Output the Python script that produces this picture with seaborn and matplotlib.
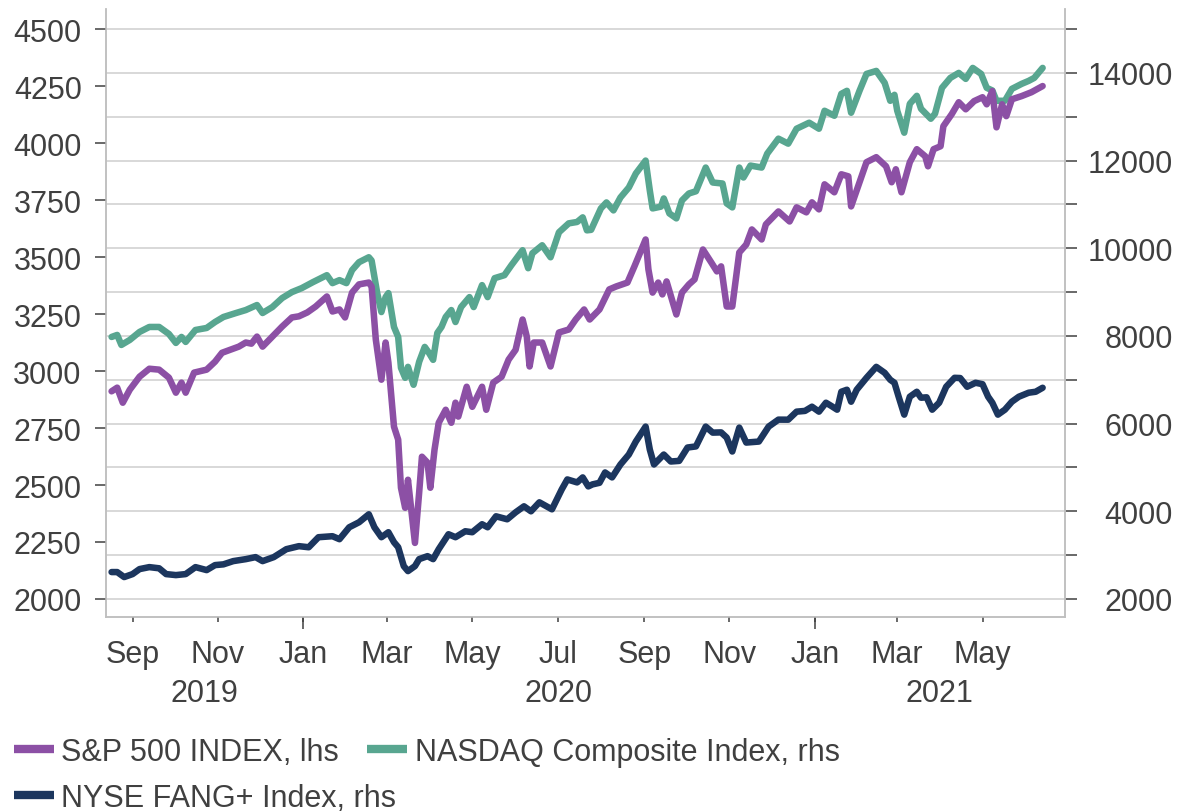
import matplotlib
matplotlib.use("Agg")
import matplotlib.pyplot as plt
import matplotlib.dates as mdates
import matplotlib.ticker as mticker
import seaborn as sns
import pandas as pd

sns.set_theme(style="white")
plt.rcParams["font.family"] = ["Liberation Sans", "DejaVu Sans"]

# ---------------- data ----------------
spx_dates = ["2019-08-17", "2019-08-21", "2019-08-25", "2019-08-30", "2019-09-06", "2019-09-13", "2019-09-20",
             "2019-09-27", "2019-10-02", "2019-10-06", "2019-10-09", "2019-10-15", "2019-10-24", "2019-10-30",
             "2019-11-04", "2019-11-16", "2019-11-21", "2019-11-25", "2019-11-29", "2019-12-03", "2019-12-10",
             "2019-12-17", "2019-12-24", "2019-12-29", "2020-01-04", "2020-01-10", "2020-01-18", "2020-01-22",
             "2020-01-27", "2020-01-31", "2020-02-05", "2020-02-10", "2020-02-17", "2020-02-19", "2020-02-22",
             "2020-02-26", "2020-02-29", "2020-03-02", "2020-03-06", "2020-03-09", "2020-03-11", "2020-03-14",
             "2020-03-16", "2020-03-21", "2020-03-24", "2020-03-26", "2020-03-30", "2020-04-01", "2020-04-04",
             "2020-04-07", "2020-04-12", "2020-04-16", "2020-04-19", "2020-04-21", "2020-04-27", "2020-05-01",
             "2020-05-08", "2020-05-11", "2020-05-16", "2020-05-22", "2020-05-27", "2020-06-01", "2020-06-06",
             "2020-06-09", "2020-06-11", "2020-06-14", "2020-06-20", "2020-06-26", "2020-07-02", "2020-07-09",
             "2020-07-14", "2020-07-20", "2020-07-24", "2020-07-31", "2020-08-07", "2020-08-12", "2020-08-20",
             "2020-08-25", "2020-09-02", "2020-09-04", "2020-09-07", "2020-09-11", "2020-09-14", "2020-09-17",
             "2020-09-24", "2020-09-28", "2020-10-03", "2020-10-07", "2020-10-13", "2020-10-19", "2020-10-23",
             "2020-10-26", "2020-10-30", "2020-11-03", "2020-11-08", "2020-11-13", "2020-11-17", "2020-11-24",
             "2020-11-27", "2020-12-06", "2020-12-14", "2020-12-19", "2020-12-26", "2020-12-30", "2021-01-04",
             "2021-01-08", "2021-01-15", "2021-01-20", "2021-01-25", "2021-01-27", "2021-02-02", "2021-02-07",
             "2021-02-14", "2021-02-21", "2021-02-25", "2021-02-28", "2021-03-04", "2021-03-10", "2021-03-15",
             "2021-03-21", "2021-03-23", "2021-03-27", "2021-04-01", "2021-04-03", "2021-04-09", "2021-04-14",
             "2021-04-19", "2021-04-25", "2021-05-01", "2021-05-04", "2021-05-08", "2021-05-11", "2021-05-15",
             "2021-05-18", "2021-05-22", "2021-05-29", "2021-06-05", "2021-06-13"]
spx_values = [2911, 2927, 2861, 2918, 2975, 3010, 3006,
              2971, 2905, 2949, 2905, 2993, 3006, 3041,
              3080, 3107, 3125, 3120, 3151, 3107, 3151,
              3195, 3235, 3240, 3257, 3283, 3327, 3261,
              3270, 3235, 3344, 3380, 3388, 3370, 3138,
              2962, 3125, 3037, 2756, 2699, 2488, 2400,
              2523, 2246, 2466, 2624, 2598, 2488, 2655,
              2773, 2830, 2773, 2861, 2800, 2931, 2843,
              2931, 2830, 2949, 2975, 3050, 3093, 3226,
              3151, 3020, 3125, 3125, 3020, 3169, 3182,
              3226, 3270, 3226, 3270, 3358, 3371, 3388,
              3459, 3577, 3446, 3344, 3388, 3336, 3393,
              3248, 3344, 3380, 3402, 3533, 3476, 3437,
              3459, 3283, 3283, 3520, 3555, 3621, 3577,
              3643, 3700, 3656, 3718, 3696, 3740, 3709,
              3819, 3784, 3863, 3854, 3722, 3828, 3916,
              3938, 3898, 3828, 3885, 3784, 3916, 3973,
              3942, 3898, 3973, 3986, 4074, 4127, 4179,
              4148, 4184, 4201, 4170, 4228, 4069, 4170,
              4118, 4192, 4206, 4223, 4250]

ndq_dates = ["2019-08-17", "2019-08-21", "2019-08-24", "2019-08-30", "2019-09-06", "2019-09-13", "2019-09-20",
             "2019-09-27", "2019-10-02", "2019-10-06", "2019-10-09", "2019-10-16", "2019-10-24", "2019-10-30",
             "2019-11-05", "2019-11-14", "2019-11-21", "2019-11-29", "2019-12-03", "2019-12-10", "2019-12-17",
             "2019-12-24", "2019-12-31", "2020-01-08", "2020-01-18", "2020-01-22", "2020-01-27", "2020-02-01",
             "2020-02-05", "2020-02-10", "2020-02-17", "2020-02-19", "2020-02-23", "2020-02-26", "2020-02-29",
             "2020-03-02", "2020-03-06", "2020-03-09", "2020-03-11", "2020-03-14", "2020-03-16", "2020-03-20",
             "2020-03-24", "2020-03-28", "2020-03-31", "2020-04-03", "2020-04-06", "2020-04-09", "2020-04-12",
             "2020-04-16", "2020-04-19", "2020-04-23", "2020-04-29", "2020-05-02", "2020-05-08", "2020-05-12",
             "2020-05-17", "2020-05-24", "2020-05-29", "2020-06-06", "2020-06-10", "2020-06-13", "2020-06-20",
             "2020-06-26", "2020-07-02", "2020-07-09", "2020-07-15", "2020-07-19", "2020-07-22", "2020-07-25",
             "2020-08-01", "2020-08-05", "2020-08-10", "2020-08-15", "2020-08-21", "2020-08-26", "2020-09-02",
             "2020-09-05", "2020-09-07", "2020-09-13", "2020-09-15", "2020-09-19", "2020-09-24", "2020-09-28",
             "2020-10-03", "2020-10-08", "2020-10-15", "2020-10-20", "2020-10-27", "2020-10-30", "2020-11-03",
             "2020-11-08", "2020-11-11", "2020-11-16", "2020-11-24", "2020-11-28", "2020-12-06", "2020-12-13",
             "2020-12-19", "2020-12-28", "2021-01-04", "2021-01-08", "2021-01-15", "2021-01-20", "2021-01-24",
             "2021-01-27", "2021-02-02", "2021-02-07", "2021-02-14", "2021-02-20", "2021-02-24", "2021-02-27",
             "2021-03-01", "2021-03-06", "2021-03-10", "2021-03-15", "2021-03-18", "2021-03-25", "2021-03-28",
             "2021-04-02", "2021-04-08", "2021-04-14", "2021-04-19", "2021-04-24", "2021-04-30", "2021-05-04",
             "2021-05-08", "2021-05-11", "2021-05-17", "2021-05-22", "2021-05-29", "2021-06-03", "2021-06-07",
             "2021-06-13"]
ndq_values = [7977, 8023, 7795, 7909, 8091, 8205, 8205,
              8045, 7841, 7977, 7864, 8136, 8182, 8318,
              8432, 8523, 8591, 8705, 8523, 8659, 8864,
              9000, 9091, 9227, 9386, 9205, 9273, 9205,
              9500, 9682, 9795, 9720, 8977, 8545, 8886,
              8977, 8205, 7977, 7273, 7045, 7295, 6886,
              7409, 7750, 7614, 7455, 8068, 8205, 8432,
              8591, 8318, 8659, 8886, 8659, 9159, 8886,
              9318, 9386, 9614, 9955, 9545, 9886, 10068,
              9795, 10364, 10568, 10600, 10705, 10409, 10420,
              10909, 11045, 10864, 11159, 11386, 11705, 12000,
              11318, 10909, 10950, 11136, 10795, 10682, 11091,
              11250, 11300, 11841, 11500, 11477, 11023, 10932,
              11841, 11614, 11886, 11841, 12159, 12500, 12386,
              12727, 12864, 12727, 13136, 13023, 13523, 13591,
              13091, 13591, 13977, 14045, 13773, 13364, 13500,
              13136, 12636, 13295, 13477, 13182, 12955, 13068,
              13659, 13886, 14000, 13864, 14114, 13977, 13659,
              13600, 13364, 13364, 13636, 13750, 13818, 13886,
              14114]

fang_dates = ["2019-08-17", "2019-08-21", "2019-08-26", "2019-09-01", "2019-09-06", "2019-09-13", "2019-09-20",
              "2019-09-25", "2019-10-02", "2019-10-09", "2019-10-16", "2019-10-24", "2019-10-30", "2019-11-05",
              "2019-11-12", "2019-11-21", "2019-11-28", "2019-12-03", "2019-12-11", "2019-12-20", "2019-12-29",
              "2020-01-05", "2020-01-12", "2020-01-22", "2020-01-27", "2020-02-03", "2020-02-10", "2020-02-17",
              "2020-02-21", "2020-02-26", "2020-03-02", "2020-03-06", "2020-03-09", "2020-03-13", "2020-03-16",
              "2020-03-21", "2020-03-24", "2020-03-30", "2020-04-03", "2020-04-07", "2020-04-14", "2020-04-19",
              "2020-04-26", "2020-05-01", "2020-05-08", "2020-05-12", "2020-05-18", "2020-05-26", "2020-06-01",
              "2020-06-07", "2020-06-12", "2020-06-18", "2020-06-27", "2020-07-04", "2020-07-08", "2020-07-15",
              "2020-07-19", "2020-07-23", "2020-07-26", "2020-07-31", "2020-08-04", "2020-08-09", "2020-08-15",
              "2020-08-21", "2020-08-26", "2020-09-02", "2020-09-05", "2020-09-08", "2020-09-15", "2020-09-20",
              "2020-09-26", "2020-10-02", "2020-10-08", "2020-10-15", "2020-10-20", "2020-10-26", "2020-10-30",
              "2020-11-03", "2020-11-08", "2020-11-13", "2020-11-22", "2020-11-29", "2020-12-06", "2020-12-13",
              "2020-12-19", "2020-12-25", "2020-12-30", "2021-01-04", "2021-01-09", "2021-01-13", "2021-01-17",
              "2021-01-20", "2021-01-24", "2021-01-27", "2021-01-31", "2021-02-07", "2021-02-14", "2021-02-20",
              "2021-02-24", "2021-02-27", "2021-03-02", "2021-03-06", "2021-03-10", "2021-03-15", "2021-03-18",
              "2021-03-22", "2021-03-26", "2021-03-31", "2021-04-05", "2021-04-11", "2021-04-15", "2021-04-20",
              "2021-04-26", "2021-05-01", "2021-05-05", "2021-05-08", "2021-05-12", "2021-05-17", "2021-05-22",
              "2021-05-27", "2021-06-03", "2021-06-08", "2021-06-13"]
fang_values = [2614, 2614, 2500, 2568, 2682, 2727, 2700,
               2568, 2545, 2568, 2727, 2659, 2773, 2790,
               2864, 2909, 2955, 2864, 2955, 3136, 3205,
               3180, 3409, 3432, 3364, 3636, 3750, 3932,
               3636, 3409, 3523, 3295, 3182, 2750, 2636,
               2750, 2909, 2977, 2909, 3136, 3477, 3409,
               3545, 3523, 3705, 3636, 3886, 3818, 3977,
               4114, 4000, 4205, 4045, 4500, 4727, 4659,
               4773, 4568, 4614, 4650, 4886, 4773, 5068,
               5295, 5591, 5932, 5409, 5068, 5295, 5136,
               5150, 5455, 5480, 5932, 5795, 5800, 5682,
               5364, 5909, 5568, 5591, 5932, 6091, 6090,
               6273, 6290, 6386, 6273, 6477, 6400, 6318,
               6727, 6773, 6500, 6773, 7045, 7295, 7159,
               7000, 6932, 6614, 6205, 6614, 6727, 6591,
               6600, 6318, 6477, 6841, 7045, 7040, 6841,
               6932, 6900, 6614, 6477, 6205, 6318, 6500,
               6614, 6705, 6727, 6818]

series_labels = ["S&P 500 INDEX, lhs", "NASDAQ Composite Index, rhs", "NYSE FANG+ Index, rhs"]
left_ticks = list(range(2000, 4501, 250))
right_major = list(range(2000, 14001, 2000))
right_minor = list(range(3000, 15001, 2000))
year_labels = ["2019", "2020", "2021"]

# ---------------- style ----------------
C_SPX = "#8C50A5"
C_NDQ = "#58A690"
C_FANG = "#1C365E"
TXT = "#404040"
GRID = "#D6D6D6"
SPINE = "#BFBFBF"
FS = 22

W, H = 1180, 812
fig = plt.figure(figsize=(W / 100, H / 100), dpi=100)
fig.patch.set_facecolor("white")
ax = fig.add_axes([106 / W, 1 - 618 / H, (1065 - 106) / W, (618 - 10) / H])
ax2 = ax.twinx()

spx = pd.DataFrame({"date": pd.to_datetime(spx_dates), "value": spx_values})
ndq = pd.DataFrame({"date": pd.to_datetime(ndq_dates), "value": ndq_values})
fang = pd.DataFrame({"date": pd.to_datetime(fang_dates), "value": fang_values})

line_kw = dict(linewidth=4.7, solid_joinstyle="round", solid_capstyle="round")
sns.lineplot(data=fang, x="date", y="value", ax=ax2, color=C_FANG, label=series_labels[2], **line_kw)
sns.lineplot(data=ndq, x="date", y="value", ax=ax2, color=C_NDQ, label=series_labels[1], **line_kw)
sns.lineplot(data=spx, x="date", y="value", ax=ax, color=C_SPX, label=series_labels[0], **line_kw)
for a in (ax, ax2):
    if a.get_legend() is not None:
        a.get_legend().remove()
    a.set_xlabel("")
    a.set_ylabel("")

# put S&P axis above the right axis
ax.set_zorder(ax2.get_zorder() + 1)
ax.patch.set_visible(False)

# limits (left 2000 aligned with right 2000, left 4500 with right 15000)
ax.set_ylim(1921, 4588)
ax2.set_ylim(2000 + 5.2 * (1921 - 2000), 2000 + 5.2 * (4588 - 2000))
ax.set_xlim(pd.Timestamp("2019-08-13"), pd.Timestamp("2021-06-29"))

# left axis ticks
ax.set_yticks(left_ticks)
ax.set_yticklabels([str(v) for v in left_ticks])
ax.tick_params(axis="y", which="major", left=True, right=False, direction="out", length=8, width=1.1,
               color="#404040", labelsize=FS, labelcolor=TXT, pad=9.5)

# right axis ticks
ax2.yaxis.set_major_locator(mticker.FixedLocator(right_major))
ax2.yaxis.set_minor_locator(mticker.FixedLocator(right_minor))
ax2.set_yticklabels([str(v) for v in right_major])
ax2.tick_params(axis="y", which="both", right=True, left=False, direction="out", length=8.5, width=1.1,
                color="#404040", labelsize=FS, labelcolor=TXT)
ax2.tick_params(axis="y", which="major", pad=69)
for lbl in ax2.get_yticklabels():
    lbl.set_horizontalalignment("right")
ax2.grid(True, which="both", axis="y", color=GRID, linewidth=1.3)
ax.grid(False)
ax2.set_axisbelow(True)

# x axis ticks
ax.xaxis.set_major_locator(mdates.MonthLocator(bymonth=[1, 3, 5, 7, 9, 11]))
ax.xaxis.set_major_formatter(mdates.DateFormatter("%b"))
ax.xaxis.set_minor_locator(mdates.YearLocator())
ax.xaxis.remove_overlapping_locs = False
ax.tick_params(axis="x", which="major", bottom=True, direction="out", length=3.8, width=1.1,
               color="#404040", labelsize=FS, labelcolor=TXT, pad=12)
ax.tick_params(axis="x", which="minor", bottom=True, direction="out", length=8.5, width=1.1,
               color="#404040")
ax2.tick_params(axis="x", which="both", bottom=False, labelbottom=False)

# year labels centred on the visible part of each year
x0, x1 = ax.get_xlim()
year_bounds = [(x0, mdates.date2num(pd.Timestamp("2020-01-01"))),
               (mdates.date2num(pd.Timestamp("2020-01-01")), mdates.date2num(pd.Timestamp("2021-01-01"))),
               (mdates.date2num(pd.Timestamp("2021-01-01")), x1)]
for lab, (a0, a1) in zip(year_labels, year_bounds):
    ax.text((a0 + a1) / 2, -0.125, lab, transform=ax.get_xaxis_transform(), ha="center", va="center",
            fontsize=FS, color=TXT)

# spines
for a in (ax, ax2):
    a.spines["top"].set_visible(False)
    for s in ("left", "right", "bottom"):
        a.spines[s].set_color(SPINE)
        a.spines[s].set_linewidth(1.1)

# legend (flow layout: two rows)
h_spx = ax.get_lines()[0]
h_ndq, h_fang = None, None
for ln in ax2.get_lines():
    if ln.get_label() == series_labels[1]:
        h_ndq = ln
    elif ln.get_label() == series_labels[2]:
        h_fang = ln
leg_kw = dict(frameon=False, fontsize=FS, labelcolor=TXT, handlelength=1.3, handletextpad=0.25,
              borderpad=0, borderaxespad=0, loc="center left")
leg1 = fig.legend([h_spx, h_ndq], series_labels[:2], ncol=2, columnspacing=0.92,
                  bbox_to_anchor=(14 / W, 1 - 753 / H), **leg_kw)
leg2 = fig.legend([h_fang], series_labels[2:], bbox_to_anchor=(14 / W, 1 - 799 / H), **leg_kw)
for lg in (leg1, leg2):
    for ln in lg.get_lines():
        ln.set_linewidth(6)
        ln.set_solid_capstyle("butt")

fig.savefig("out.png", dpi=100, facecolor="white")
